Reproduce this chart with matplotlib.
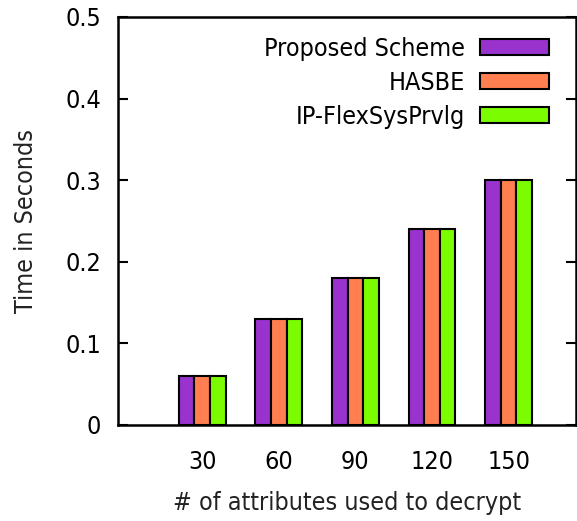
import matplotlib
matplotlib.use("Agg")
import matplotlib.pyplot as plt
import numpy as np

categories = ["30", "60", "90", "120", "150"]
proposed = [0.06, 0.13, 0.18, 0.24, 0.30]
hasbe = [0.06, 0.13, 0.18, 0.24, 0.30]
ipflex = [0.06, 0.13, 0.18, 0.24, 0.30]
series_names = ["Proposed Scheme", "HASBE", "IP-FlexSysPrvlg"]
colors = ["#9a32cd", "#ff7f50", "#7cfc00"]
yticks = [0, 0.1, 0.2, 0.3, 0.4, 0.5]

plt.rcParams['font.family'] = ['DejaVu Sans']
plt.rcParams['font.stretch'] = 'condensed'
FS = 18

fig = plt.figure(figsize=(5.77, 5.21), dpi=100)
ax = fig.add_axes([118/577, 1-425/521, (576-118)/577, (425-17)/521])

x = np.arange(len(categories))
w = 0.204
for i, (vals, name, c) in enumerate(zip([proposed, hasbe, ipflex], series_names, colors)):
    ax.bar(x + (i-1)*w, vals, w, color=c, edgecolor='black', linewidth=1.5, label=name)

ax.set_xlim(-1.10, 4.88)
ax.set_ylim(0, 0.5)
ax.set_yticks(yticks)
ax.set_yticklabels(["0", "0.1", "0.2", "0.3", "0.4", "0.5"])
ax.set_xticks(x)
ax.set_xticklabels(categories)
ax.tick_params(axis='y', direction='in', length=7, width=1.5, right=True, labelsize=FS, pad=12, color='black')
ax.tick_params(axis='x', length=0, labelsize=FS, pad=18)
for s in ax.spines.values():
    s.set_linewidth(1.8)
ax.set_ylabel("Time in Seconds", fontsize=FS, labelpad=20, color='#222222')
ax.set_xlabel("# of attributes used to decrypt", fontsize=FS, labelpad=12, color='#222222')

leg = ax.legend(loc='upper right', frameon=False, markerfirst=False, fontsize=FS,
                handlelength=2.75, handleheight=0.6, labelspacing=0.4,
                bbox_to_anchor=(0.963, 0.975), handletextpad=0.6, borderaxespad=0.0)

fig.savefig("out.png", dpi=100)
